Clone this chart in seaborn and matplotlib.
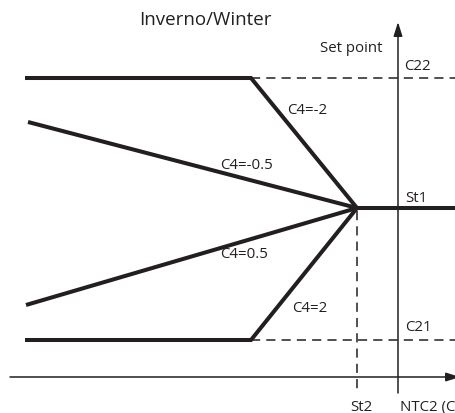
import matplotlib

matplotlib.use("Agg")
import matplotlib.pyplot as plt
import pandas as pd
import seaborn as sns

# schematic units: vertical axis at x=0, St1 at y=0
st2 = -4.1
st1 = 0.0
c22 = 13.0
c21 = -13.2
x_left = -37.3
x_knee = -14.7
x_right = 5.8

curve_names = ["C4=-2", "C4=-0.5", "C4=0.5", "C4=2", "St1"]
curve_x = [
    [x_left, x_knee, st2],
    [-37.0, st2],
    [-37.2, st2],
    [x_left, x_knee, st2],
    [st2, x_right],
]
curve_y = [
    [c22, c22, st1],
    [8.6, st1],
    [-9.7, st1],
    [c21, c21, st1],
    [st1, st1],
]

axis_y = -16.9
axis_x_start = -38.8
axis_x_end = 6.2
vaxis_bottom = -18.5
vaxis_top = 18.6
st2_bottom = -18.3

ink = "#231f20"

sns.set_theme(style="white")
plt.rcParams["font.family"] = ["Open Sans", "DejaVu Sans"]

rows = []
for name, xs, ys in zip(curve_names, curve_x, curve_y):
    for i, (x, y) in enumerate(zip(xs, ys)):
        rows.append({"curve": name, "order": i, "x": x, "y": y})
curves = pd.DataFrame(rows)

fig = plt.figure(figsize=(4.56, 4.14), dpi=100)
ax = fig.add_axes([0, 0, 1, 1])

sns.lineplot(
    data=curves, x="x", y="y", units="curve", estimator=None, sort=False,
    color=ink, linewidth=2.9, ax=ax, legend=False,
)
for line in ax.lines:
    line.set_solid_joinstyle("miter")
    line.set_solid_capstyle("butt")

# dashed reference lines
dash = dict(color=ink, linewidth=1.1, linestyle=(0, (6, 4)))
ax.plot([x_knee, x_right], [c22, c22], **dash)
ax.plot([x_knee, x_right], [c21, c21], **dash)
ax.plot([st2, st2], [st1 - 0.3, st2_bottom], **dash)

# axes with arrows
arrow = dict(arrowstyle="-|>,head_length=0.7,head_width=0.22", color=ink, lw=1.1, shrinkA=0, shrinkB=0)
ax.annotate("", xy=(axis_x_end, axis_y), xytext=(axis_x_start, axis_y),
            arrowprops=arrow, annotation_clip=False)
ax.annotate("", xy=(0, vaxis_top), xytext=(0, vaxis_bottom),
            arrowprops=arrow, annotation_clip=False)

txt = dict(color=ink, fontsize=10.8, va="center")
ax.text(-19.3, 18.9, "Inverno/Winter", ha="center", color=ink, fontsize=13.5, va="center")
ax.text(-1.5, 16.1, "Set point", ha="right", **txt)
ax.text(0.6, 14.3, "C22", ha="left", **txt)
ax.text(-11.1, 9.9, "C4=-2", ha="left", **txt)
ax.text(-17.8, 4.3, "C4=-0.5", ha="left", **txt)
ax.text(0.7, 1.0, "St1", ha="left", **txt)
ax.text(-17.8, -4.6, "C4=0.5", ha="left", **txt)
ax.text(-10.6, -10.0, "C4=2", ha="left", **txt)
ax.text(0.7, -11.9, "C21", ha="left", **txt)
ax.text(-3.7, -19.9, "St2", ha="center", **txt)
ax.text(5.7, -19.9, "NTC2 (C", ha="right", **txt)

ax.set_xlim(-39.8, 5.8)
ax.set_ylim(-20.5, 20.9)
ax.set_axis_off()

fig.savefig("out.png", dpi=100)
plt.close(fig)
